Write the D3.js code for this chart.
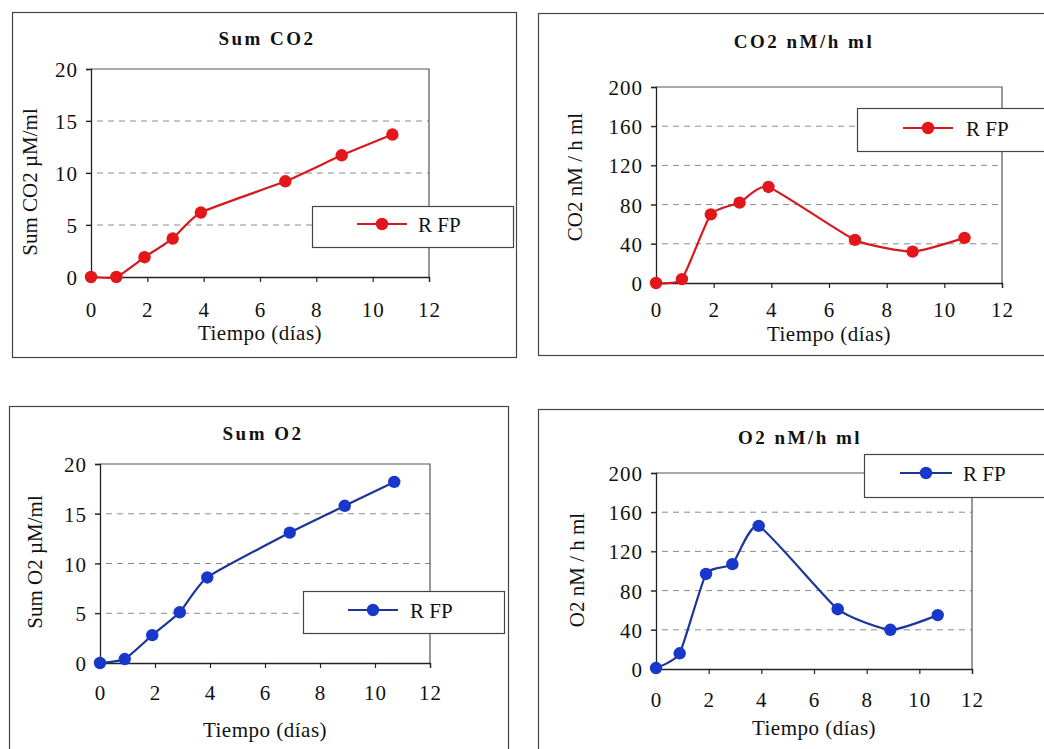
<!DOCTYPE html>
<html><head><meta charset="utf-8">
<script src="https://cdn.jsdelivr.net/npm/d3@7"></script>
<style>
body{margin:0;background:#fff;}
svg text{font-family:"Liberation Serif","Tinos","Times New Roman","DejaVu Serif","Noto Serif",serif !important;fill:#111;}
</style></head>
<body><svg id="c" width="1044" height="749"></svg>
<script>
const days = [0, 0.9, 1.9, 2.9, 3.9, 6.9, 8.9, 10.7];
const sumCO2 = [0, 0, 1.9, 3.7, 6.2, 9.2, 11.7, 13.7];
const co2Rate = [0, 4, 70, 82, 98, 44, 32, 46];
const sumO2 = [0, 0.4, 2.8, 5.1, 8.6, 13.1, 15.8, 18.2];
const o2Rate = [1, 16, 97, 107, 146, 61, 40, 55];
const xTicks = [0, 2, 4, 6, 8, 10, 12];
const sumTicks = [0, 5, 10, 15, 20];
const rateTicks = [0, 40, 80, 120, 160, 200];
const seriesName = "R FP";
const xTitle = "Tiempo (días)";

const panels = [
  {title:"Sum CO2", ylab:"Sum CO2 µM/ml", vals:sumCO2, ticks:sumTicks, ymax:20, color:"#e3161b", line:"#d41a1f",
   frame:[12,12,516,357], plot:[91,69,429,277], tx:267, ty:45, leg:[312,206,513,247], legLine:[357,407], legText:418, legY:224,
   ylx:30, yly:182, xtY:317, xlY:340},
  {title:"CO2 nM/h ml", ylab:"CO2  nM / h ml", vals:co2Rate, ticks:rateTicks, ymax:200, color:"#e3161b", line:"#d41a1f",
   frame:[538,13,1050,355], plot:[656,87,1002,283], tx:804, ty:48, leg:[857,108,1050,151], legLine:[903,953], legText:966, legY:128,
   ylx:575, yly:177, xtY:317, xlY:341},
  {title:"Sum O2", ylab:"Sum O2  µM/ml", vals:sumO2, ticks:sumTicks, ymax:20, color:"#1838cc", line:"#1c3596",
   frame:[9,406,508,760], plot:[100,464,430,663], tx:263, ty:440, leg:[303,591,504,633], legLine:[348,398], legText:410, legY:610,
   ylx:35, yly:562, xtY:700, xlY:737},
  {title:"O2 nM/h ml", ylab:"O2  nM / h ml", vals:o2Rate, ticks:rateTicks, ymax:200, color:"#1838cc", line:"#1c3596",
   frame:[538,409,1050,760], plot:[656,473,972,669], tx:800, ty:444, leg:[864,454,1050,497], legLine:[900,952], legText:963, legY:473,
   ylx:577, yly:570, xtY:707, xlY:735}
];

const FONT = "'Liberation Serif','Tinos','Times New Roman','DejaVu Serif',serif";
const svg = d3.select("#c");
panels.forEach(p => {
  const g = svg.append("g");
  const [fx0,fy0,fx1,fy1] = p.frame;
  g.append("rect").attr("x",fx0+0.5).attr("y",fy0+0.5).attr("width",fx1-fx0).attr("height",fy1-fy0)
    .attr("fill","#fff").attr("stroke","#444").attr("stroke-width",1.2);
  const [px0,py0,px1,py1] = p.plot;
  const x = d3.scaleLinear().domain([0,12]).range([px0,px1]);
  const y = d3.scaleLinear().domain([0,p.ymax]).range([py1,py0]);
  g.selectAll(".grid").data(p.ticks.filter(t=>t>0 && t<p.ymax)).join("line")
    .attr("x1",px0-5).attr("x2",px1).attr("y1",d=>y(d)).attr("y2",d=>y(d))
    .attr("stroke","#8a8a8a").attr("stroke-width",1).attr("stroke-dasharray","6,5");
  g.append("path").attr("d",`M${px0},${py0}H${px1}V${py1}`).attr("fill","none").attr("stroke","#555").attr("stroke-width",1.2);
  const ya = d3.axisLeft(y).tickValues(p.ticks).tickSize(5).tickPadding(8).tickFormat(d3.format("d"));
  const yg = g.append("g").attr("transform",`translate(${px0},0)`).call(ya);
  const xa = d3.axisBottom(x).tickValues(xTicks).tickSize(5).tickPadding(0).tickFormat(d3.format("d"));
  const xg = g.append("g").attr("transform",`translate(0,${py1})`).call(xa);
  [yg,xg].forEach(a=>{
    a.attr("font-family",FONT).attr("font-size",21);
    a.select(".domain").attr("stroke","#222").attr("stroke-width",1.3);
    a.selectAll(".tick line").attr("stroke","#222").attr("stroke-width",1.2);
    a.selectAll("text").attr("fill","#111").style("letter-spacing","1px");
  });
  xg.selectAll(".tick text").attr("dy",null).attr("y",p.xtY-py1);
  yg.selectAll(".tick text").attr("dy","0.36em");
  g.append("text").attr("x",p.tx).attr("y",p.ty).attr("text-anchor","middle").attr("font-family",FONT)
    .style("font-size","19px").style("font-weight","bold").style("letter-spacing","2.5px").text(p.title);
  g.append("text").attr("transform",`translate(${p.ylx+7},${p.yly}) rotate(-90)`).attr("text-anchor","middle").attr("font-family",FONT)
    .style("font-size","21px").text(p.ylab);
  g.append("text").attr("x",(px0+px1)/2).attr("y",p.xlY).attr("text-anchor","middle").attr("font-family",FONT)
    .style("font-size","21px").style("letter-spacing","0.5px").text(xTitle);
  const pts = days.map((d,i)=>[d,p.vals[i]]);
  const line = d3.line().x(d=>x(d[0])).y(d=>y(d[1])).curve(d3.curveCardinal.tension(0.5));
  g.append("path").datum(pts).attr("d",line).attr("fill","none").attr("stroke",p.line).attr("stroke-width",2.2);
  g.selectAll(".pt").data(pts).join("circle").attr("cx",d=>x(d[0])).attr("cy",d=>y(d[1])).attr("r",6.2).attr("fill",p.color);
  const [lx0,ly0,lx1,ly1] = p.leg;
  g.append("rect").attr("x",lx0+0.5).attr("y",ly0+0.5).attr("width",lx1-lx0).attr("height",ly1-ly0)
    .attr("fill","#fff").attr("stroke","#444").attr("stroke-width",1.2);
  g.append("line").attr("x1",p.legLine[0]).attr("x2",p.legLine[1]).attr("y1",p.legY).attr("y2",p.legY)
    .attr("stroke",p.line).attr("stroke-width",2.2);
  g.append("circle").attr("cx",(p.legLine[0]+p.legLine[1])/2).attr("cy",p.legY).attr("r",6.2).attr("fill",p.color);
  g.append("text").attr("x",p.legText).attr("y",p.legY).attr("dy","0.36em").attr("font-family",FONT).style("font-size","21px").text(seriesName);
});
</script></body></html>
